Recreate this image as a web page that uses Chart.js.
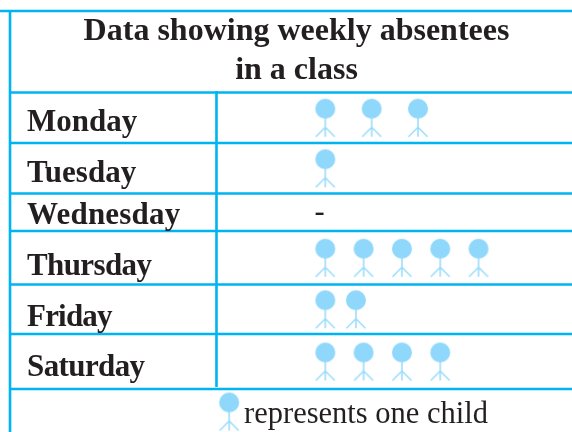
<!DOCTYPE html>
<html>
<head>
<meta charset="utf-8">
<title>Weekly absentees</title>
<script src="https://cdn.jsdelivr.net/npm/chart.js@4"></script>
<style>
  html, body { margin: 0; padding: 0; background: #fff; }
  canvas { display: block; }
</style>
</head>
<body>
<canvas id="chart" width="572" height="432"></canvas>
<script>
const titleLines = ['Data showing weekly absentees', 'in a class'];
const days = ['Monday', 'Tuesday', 'Wednesday', 'Thursday', 'Friday', 'Saturday'];
const absentees = [3, 1, 0, 5, 2, 4];
const legendText = 'represents one child';

// table layout, the source has uneven rows and icon spacing
const rowHeights = [50.5, 50.5, 37.5, 53.5, 49.5, 55, 43];
const rowSpacing = [1.21, 1, 1, 1, 0.8, 1];
const labelBaselines = [131, 182, 224, 275, 326, 376];
const labelTracking = ['0px', '0px', '0.2px', '-0.6px', '-0.8px', '-0.6px'];

const lineColor = '#00b4f1';
const iconColor = '#8fd8fb';
const inkColor = '#231f20';

function makeIcon() {
  const c = document.createElement('canvas');
  c.width = 24;
  c.height = 42;
  const g = c.getContext('2d');
  g.fillStyle = iconColor;
  g.beginPath();
  g.arc(12, 12, 10, 0, Math.PI * 2);
  g.fill();
  g.strokeStyle = '#98dcfb';
  g.lineWidth = 1.5;
  g.beginPath();
  g.moveTo(12, 21);
  g.lineTo(12, 40);
  g.moveTo(12, 30.5);
  g.lineTo(2.5, 40);
  g.moveTo(12, 30.5);
  g.lineTo(21.5, 40);
  g.stroke();
  return c;
}

const rowEdges = rowHeights.reduce((acc, h) => acc.concat(acc[acc.length - 1] + h), [0]);
const rowCenter = i => (rowEdges[i] + rowEdges[i + 1]) / 2;

const icon = makeIcon();
const dayDatasets = days.map((day, i) => ({
  label: day,
  data: Array.from({ length: absentees[i] }, (_, k) => ({ x: 1 + k * rowSpacing[i], y: rowCenter(i) })),
  pointStyle: icon,
  pointRadius: 10,
  clip: false
}));
const keyDataset = {
  label: 'key',
  data: [{ x: -1.51, y: rowCenter(6) + 1 }],
  pointStyle: icon,
  pointRadius: 10,
  clip: false
};

const tablePlugin = {
  id: 'table',
  beforeDatasetsDraw(chart) {
    const { ctx, scales: { x, y } } = chart;
    ctx.save();
    ctx.strokeStyle = lineColor;
    ctx.lineWidth = 2.6;
    ctx.beginPath();
    ctx.moveTo(0, 11);
    ctx.lineTo(572, 11);
    ctx.moveTo(10, 10);
    ctx.lineTo(10, 432);
    rowEdges.slice(0, 7).forEach(v => {
      ctx.moveTo(9, y.getPixelForValue(v));
      ctx.lineTo(572, y.getPixelForValue(v));
    });
    const divider = x.getPixelForValue(-1.84);
    ctx.moveTo(divider, 91);
    ctx.lineTo(divider, 387);
    ctx.stroke();
    ctx.restore();
  },
  afterDatasetsDraw(chart) {
    const { ctx, scales: { x } } = chart;
    ctx.save();
    ctx.fillStyle = inkColor;
    ctx.textBaseline = 'alphabetic';

    ctx.font = 'bold 32px "Liberation Serif"';
    ctx.textAlign = 'center';
    ctx.fillText(titleLines[0], 296.5, 40);
    ctx.fillText(titleLines[1], 296.5, 79);

    ctx.font = 'bold 31px "Liberation Serif"';
    ctx.textAlign = 'left';
    days.forEach((day, i) => {
      ctx.letterSpacing = labelTracking[i];
      ctx.fillText(day, 27, labelBaselines[i]);
    });
    ctx.letterSpacing = '0px';

    ctx.font = '30.5px "Liberation Serif"';
    ctx.fillText(legendText, x.getPixelForValue(-1.12), 423);

    absentees.forEach((n, i) => {
      if (n === 0) {
        ctx.textAlign = 'center';
        ctx.fillText('-', x.getPixelForValue(0.85), labelBaselines[i] - 3);
      }
    });
    ctx.restore();
  }
};

new Chart(document.getElementById('chart'), {
  type: 'scatter',
  data: { datasets: [...dayDatasets, keyDataset] },
  plugins: [tablePlugin],
  options: {
    responsive: false,
    animation: false,
    layout: { autoPadding: false, padding: { left: 10, right: 0, top: 92.5, bottom: 0 } },
    plugins: { legend: { display: false }, tooltip: { enabled: false }, title: { display: false } },
    scales: {
      x: { type: 'linear', display: false, min: -7.23, max: 7.44 },
      y: { type: 'linear', display: false, reverse: true, min: 0, max: rowEdges[7] }
    }
  }
});
</script>
</body>
</html>
